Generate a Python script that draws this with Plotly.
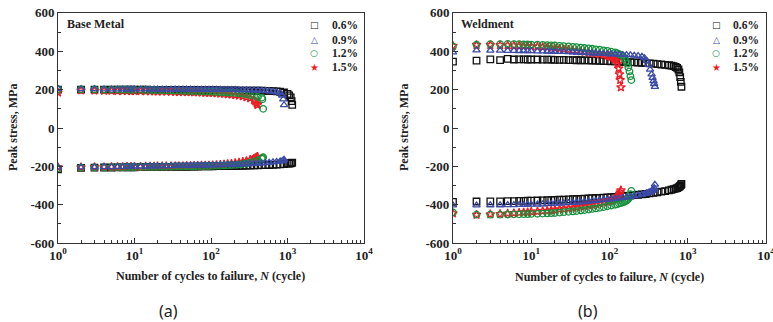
import plotly.graph_objects as go

# ---------------- Base metal ----------------
bm06_n = [1,2,3,4,5,6,7,8,9,10,12,14,16,18,20,23,26,30,34,38,43,48,54,60,67,75,84,94,105,118,
          132,148,165,185,207,232,260,290,325,365,410,460,515,575,645,720,800,900,1000,1050,1100,1130,1150]
bm06_t = [200,200,200,200,200,200,200,200,200,200,200,200,199,199,199,199,199,199,198,198,
          198,198,198,198,197,197,197,197,197,197,196,196,196,196,196,195,195,195,195,195,
          194,194,193,193,192,191,189,185,178,170,160,140,120]
bm06_c = [-215,-208,-207,-206,-206,-205,-205,-205,-205,-205,-204,-204,-204,-204,-203,-203,-203,-203,-202,-202,
          -202,-202,-201,-201,-201,-200,-200,-200,-200,-199,-199,-199,-198,-198,-198,-197,-197,-196,-196,-195,
          -195,-194,-194,-193,-192,-191,-190,-188,-186,-185,-184,-182,-180]

bm09_n = [1,2,3,4,5,6,7,8,9,10,12,14,16,18,20,23,26,30,34,38,43,48,54,60,67,75,84,94,105,118,
          132,148,165,185,207,232,260,290,325,365,410,460,515,575,645,720,800,850,880,900]
bm09_t = [205,203,203,202,202,202,202,202,202,202,202,202,202,202,201,201,201,201,201,201,
          201,201,201,200,200,200,200,200,200,200,200,199,199,199,199,198,198,198,197,197,
          196,195,194,192,190,187,182,170,150,120]
bm09_c = [-205,-205,-204,-203,-203,-202,-202,-201,-201,-200,-200,-200,-199,-199,-199,-198,-198,-198,-197,-197,
          -197,-196,-196,-196,-195,-195,-195,-194,-194,-193,-193,-192,-192,-191,-190,-190,-189,-188,-187,-186,
          -185,-184,-182,-180,-178,-176,-174,-172,-170,-165]

bm12_n = [1,2,3,4,5,6,7,8,9,10,12,14,16,18,20,23,26,30,34,38,43,48,54,60,67,75,84,94,105,118,
          132,148,165,185,207,232,260,290,325,365,410,460,470,480]
bm12_t = [202,201,201,200,200,200,200,200,199,199,199,198,198,198,197,197,196,196,195,195,
          194,194,193,193,192,191,190,190,189,188,187,186,185,184,183,181,179,176,172,167,
          162,158,150,100]
bm12_c = [-210,-207,-206,-206,-205,-205,-205,-204,-204,-204,-204,-203,-203,-203,-203,-202,-202,-202,-201,-201,
          -201,-200,-200,-200,-199,-199,-198,-198,-197,-196,-196,-195,-194,-193,-192,-190,-188,-185,-180,-175,
          -168,-160,-156,-152]

bm15_n = [1,2,3,4,5,6,7,8,9,10,12,14,16,18,20,23,26,30,34,38,43,48,54,60,67,75,84,94,105,118,
          132,148,165,185,207,232,260,290,325,365,380,395,405]
bm15_t = [185,196,195,194,194,193,193,193,192,192,192,191,191,191,190,190,190,189,189,188,
          188,187,187,186,186,185,184,183,182,181,180,178,176,174,172,169,165,160,155,145,
          138,128,120]
bm15_c = [-205,-205,-204,-204,-203,-203,-203,-202,-202,-202,-202,-201,-201,-201,-200,-200,-200,-200,-199,-199,
          -199,-198,-198,-197,-197,-196,-196,-195,-194,-193,-192,-190,-188,-186,-183,-180,-176,-172,-166,-160,
          -156,-152,-150]

# ---------------- Weldment ----------------
w06_n = [1,2,3,4,5,6,7,8,9,10,12,14,16,18,20,23,26,30,34,38,43,48,54,60,67,75,84,94,105,118,
         132,148,165,185,207,232,260,290,325,365,410,460,515,575,620,660,700,730,760,780,800,815,830]
w06_t = [346,351,358,354,360,357,358,358,357,357,357,356,356,356,355,355,355,354,354,353,
         353,352,352,351,351,350,349,349,348,347,346,345,344,343,342,341,340,338,337,335,
         333,331,329,327,325,322,318,313,305,290,265,240,215]
w06_c = [-385,-383,-382,-382,-381,-381,-380,-380,-379,-379,-378,-377,-376,-376,-375,-374,-373,-372,-371,-370,
         -369,-368,-367,-366,-365,-364,-363,-362,-360,-359,-357,-356,-354,-352,-350,-348,-346,-344,-341,-338,
         -335,-332,-329,-325,-322,-319,-316,-313,-310,-306,-302,-298,-292]

w09_n = [1,2,3,4,5,6,7,8,9,10,12,14,16,18,20,23,26,30,34,38,43,48,54,60,67,75,84,94,105,118,
         132,148,165,185,207,232,260,280,300,315,330,345,355,365,372,380]
w09_t = [395,405,404,404,403,403,402,402,401,401,400,400,399,399,398,397,397,396,395,394,
         393,392,391,390,389,388,387,386,385,384,383,382,381,380,378,376,372,365,350,330,
         305,280,262,245,230,215]
w09_c = [-403,-403,-402,-402,-401,-401,-400,-400,-399,-399,-398,-397,-396,-395,-394,-393,-392,-390,-389,-388,
         -386,-385,-383,-381,-379,-377,-375,-373,-371,-369,-366,-364,-361,-358,-355,-351,-347,-344,-340,-337,
         -333,-329,-325,-320,-312,-295]

w12_n = [1,2,3,4,5,6,7,8,9,10,12,14,16,18,20,23,26,30,34,38,43,48,54,60,67,75,84,94,105,118,
         125,132,140,148,155,162,168,174,180,185,190]
w12_t = [425,434,437,437,438,437,437,436,436,435,434,433,432,431,430,428,427,425,423,421,
         419,417,415,413,410,408,405,402,398,394,390,386,381,375,365,350,335,315,295,270,250]
w12_c = [-440,-452,-452,-452,-451,-450,-450,-449,-449,-448,-447,-446,-445,-444,-443,-441,-439,-437,-435,-433,
         -430,-428,-425,-422,-419,-416,-412,-408,-404,-400,-397,-394,-391,-388,-384,-380,-376,-370,-360,-345,-328]

w15_n = [1,2,3,4,5,6,7,8,9,10,12,14,16,18,20,23,26,30,34,38,43,48,54,60,67,75,84,94,100,106,
         112,118,123,127,131,134,137,140]
w15_t = [428,433,433,432,431,430,429,428,427,426,424,422,420,418,416,413,411,408,405,403,
         400,397,394,391,388,385,381,377,374,371,366,360,350,335,310,280,250,212]
w15_c = [-445,-452,-450,-448,-446,-444,-442,-440,-439,-437,-435,-433,-431,-429,-427,-424,-422,-419,-416,-413,
         -410,-407,-403,-400,-396,-392,-388,-384,-381,-378,-375,-372,-368,-364,-355,-345,-335,-325]

labels = ["0.6%", "0.9%", "1.2%", "1.5%"]
colors = ["#111111", "#3a4aa6", "#14913c", "#ee1c25"]
symbols = ["square-open", "triangle-up-open", "circle-open", "star-open"]
legend_glyphs = ["□", "△", "○", "★"]
draw_order = [0, 3, 2, 1]

y_ticks = [-600, -400, -200, 0, 200, 400, 600]
y_ticktext = ["-600", "-400", "-200", "0", "200", "400", "600"]
x_ticks = [1, 10, 100, 1000, 10000]
x_ticktext = ["10<sup>0</sup>", "10<sup>1</sup>", "10<sup>2</sup>", "10<sup>3</sup>", "10<sup>4</sup>"]

panels = [
    ("x", "y", [(bm06_n, bm06_t, bm06_c), (bm09_n, bm09_t, bm09_c),
                (bm12_n, bm12_t, bm12_c), (bm15_n, bm15_t, bm15_c)]),
    ("x2", "y2", [(w06_n, w06_t, w06_c), (w09_n, w09_t, w09_c),
                  (w12_n, w12_t, w12_c), (w15_n, w15_t, w15_c)]),
]

SERIF = "Liberation Serif"
INK = "#222222"
fig = go.Figure()
for xa, ya, series in panels:
    for i in draw_order:
        n, t, c = series[i]
        mk = dict(symbol=symbols[i], size=6.5, color=colors[i], line=dict(color=colors[i], width=1.3))
        for vals in (t, c):
            fig.add_trace(go.Scatter(x=n, y=vals, mode="markers", marker=mk, name=labels[i],
                                     xaxis=xa, yaxis=ya, showlegend=False, hoverinfo="x+y"))

tickfont = dict(family=SERIF, size=13, color=INK, weight="bold")
minor_x = [m * 10 ** k for k in range(4) for m in range(2, 10)]

def xaxis(dom, anchor):
    return dict(type="log", range=[0, 4], domain=dom, anchor=anchor, automargin=False,
                tickvals=x_ticks, ticktext=x_ticktext, ticklabeloverflow="allow",
                ticks="inside", ticklen=5, tickwidth=1, tickcolor="#333",
                minor=dict(tickvals=minor_x, ticks="inside", ticklen=3, tickcolor="#333", showgrid=False),
                showline=True, linecolor="#333", linewidth=1, mirror=True,
                showgrid=False, zeroline=False, tickfont=tickfont)

def yaxis(anchor):
    return dict(range=[-600, 600], domain=[0.245, 0.96], anchor=anchor, automargin=False,
                tickvals=y_ticks, ticktext=y_ticktext, ticklabeloverflow="allow",
                ticks="inside", ticklen=5, tickwidth=1, tickcolor="#333",
                minor=dict(dtick=100, ticks="inside", ticklen=3, tickcolor="#333", showgrid=False),
                showline=True, linecolor="#333", linewidth=1, mirror=True,
                showgrid=False, zeroline=False, tickfont=tickfont)

W, H = 773, 322
def ann(text, px, py, font, xanchor="center", angle=0):
    return dict(text=text, x=px / W, y=1 - py / H, xref="paper", yref="paper", showarrow=False,
                xanchor=xanchor, yanchor="middle", textangle=angle, font=font)

bold12 = dict(family=SERIF, size=12, color=INK, weight="bold")
bold11 = dict(family=SERIF, size=11.5, color=INK, weight="bold")
xtitle = "Number of cycles to failure, <i>N</i> (cycle)"
anns = [
    ann("Base Metal", 65, 24, bold12, "left"),
    ann("Weldment", 459, 24, bold12, "left"),
    ann("Peak stress, MPa", 13, 128, bold12, angle=-90),
    ann("Peak stress, MPa", 404, 128, bold12, angle=-90),
    ann(xtitle, 210, 276, bold12),
    ann(xtitle, 609, 277, bold12),
    ann("(a)", 168, 311, dict(family="Noto Sans", size=16, color=INK)),
    ann("(b)", 588, 311, dict(family="Noto Sans", size=16, color=INK)),
]
# legends (glyph + label) for each panel
legend_rows_y = [25, 39.5, 53, 67]
for gx, tx in ((314, 330), (716, 731)):
    for i in range(4):
        anns.append(ann(legend_glyphs[i], gx, legend_rows_y[i],
                        dict(family="DejaVu Sans", size=9 if i != 3 else 10, color=colors[i], weight="bold")))
        anns.append(ann(labels[i], tx, legend_rows_y[i], bold11, "left"))

fig.update_layout(
    width=W, height=H, margin=dict(l=0, r=0, t=0, b=0, pad=0, autoexpand=False),
    paper_bgcolor="white", plot_bgcolor="white", showlegend=False,
    xaxis=xaxis([0.075, 0.471], "y"), yaxis=yaxis("x"),
    xaxis2=xaxis([0.586, 0.991], "y2"), yaxis2=yaxis("x2"),
    annotations=anns,
)

fig.write_html("out.html")
